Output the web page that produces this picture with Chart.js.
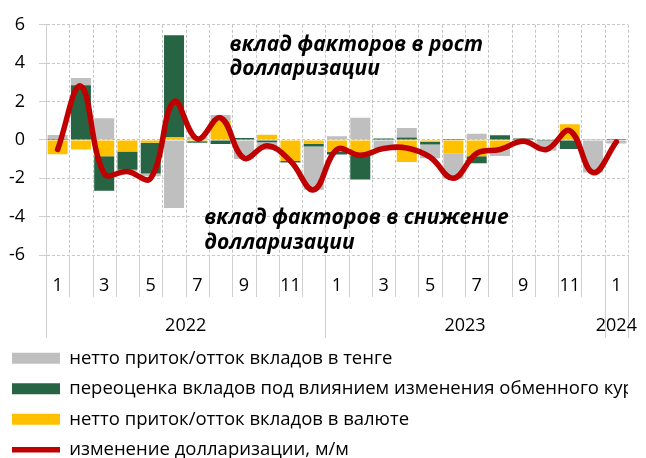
<!DOCTYPE html>
<html>
<head>
<meta charset="utf-8">
<script src="https://cdn.jsdelivr.net/npm/chart.js@4.4.1/dist/chart.umd.min.js"></script>
<style>
  html, body { margin: 0; padding: 0; background: #fff; overflow: hidden; }
  #wrap { position: relative; width: 646px; height: 469px; }
</style>
</head>
<body>
<div id="wrap"><canvas id="dollarChart"></canvas></div>
<script>
// месяцы янв.2022 - янв.2024
const months = ['1','2','3','4','5','6','7','8','9','10','11','12',
                '1','2','3','4','5','6','7','8','9','10','11','12','1'];
const years = ['2022', '2023', '2024'];
const yearSpans = [12, 12, 1];

// вклад факторов, п.п.
const kztFlow  = [0.21, 0.38, 1.13, -0.1, -0.15, -3.55, 0.17, 0.3, -1.0, -0.4, -0.05, -2.25,
                  0.19, 1.15, -0.53, 0.5, -0.72, -1.32, 0.32, -0.46, -0.05, -0.5, 0, -1.7, -0.19];
const fxReval  = [0.05, 2.85, -1.8, -0.95, -1.6, 5.3, -0.08, -0.22, 0.1, -0.12, -0.06, -0.15,
                  -0.14, -1.27, 0.07, 0.12, -0.14, 0.05, -0.37, 0.24, 0.07, -0.06, -0.48, 0, 0.05];
const fxFlow   = [-0.75, -0.5, -0.85, -0.6, -0.15, 0.15, -0.07, 1.0, 0, 0.27, -1.1, -0.2,
                  -0.62, -0.8, 0, -1.15, -0.1, -0.7, -0.85, -0.38, 0, 0.04, 0.82, 0.05, 0];
const dollarization = [-0.5, 2.8, -1.75, -1.65, -2.0, 2.0, 0.05, 1.15, -0.95, -0.3, -1.1, -2.6,
                       -0.5, -0.8, -0.45, -0.42, -0.9, -2.0, -0.7, -0.5, -0.07, -0.5, 0.48, -1.7, -0.1];
const yTicks = [-6, -4, -2, 0, 2, 4, 6];

const FONT = '"Open Sans", "Noto Sans", sans-serif';
const gridCol = '#D0D0D0';

// вертикальная сетка, разделители под осью, подписи годов и надписи на поле
const axisDecor = {
  id: 'axisDecor',
  afterDraw(chart) {
    const { ctx, chartArea: a, scales: { x, y } } = chart;
    const step = (a.right - a.left) / months.length;
    ctx.save();
    // сетка позади уже нарисованных столбцов и линии
    ctx.globalCompositeOperation = 'destination-over';
    ctx.strokeStyle = '#C4C4C4';
    ctx.lineWidth = 1;
    ctx.setLineDash([3, 2]);
    for (let i = 1; i <= months.length; i++) {
      const px = Math.round(a.left + i * step) + 0.5;
      ctx.beginPath();
      ctx.moveTo(px, a.top);
      ctx.lineTo(px, a.bottom);
      ctx.stroke();
    }
    ctx.setLineDash([]);
    ctx.globalCompositeOperation = 'source-over';

    ctx.strokeStyle = gridCol;
    const bounds = [0];
    let acc = 0;
    yearSpans.forEach(s => { acc += s; bounds.push(acc); });
    for (let i = 0; i <= months.length; i++) {
      const px = Math.round(a.left + i * step) + 0.5;
      const len = bounds.includes(i) ? 83 : 42;
      ctx.beginPath();
      ctx.moveTo(px, a.bottom);
      ctx.lineTo(px, a.bottom + len);
      ctx.stroke();
    }
    ctx.fillStyle = '#000';
    ctx.font = '18px ' + FONT;
    ctx.textAlign = 'center';
    ctx.textBaseline = 'middle';
    years.forEach((yr, i) => {
      const mid = (x.getPixelForValue(bounds[i]) + x.getPixelForValue(bounds[i + 1] - 1)) / 2;
      ctx.fillText(yr, mid, a.bottom + 71);
    });

    ctx.font = 'italic bold 21px ' + FONT;
    ctx.textAlign = 'left';
    ctx.textBaseline = 'alphabetic';
    const up = x.getPixelForValue(7) + 9;
    ctx.fillText('вклад факторов в рост', up, y.getPixelForValue(4.61));
    ctx.fillText('долларизации', up, y.getPixelForValue(3.36));
    const dn = x.getPixelForValue(6) + 7;
    ctx.fillText('вклад факторов в снижение', dn, y.getPixelForValue(-4.39));
    ctx.fillText('долларизации', dn, y.getPixelForValue(-5.67));
    ctx.restore();
  }
};

const legendRank = [2, 1, 0, 3];

const ctx = document.getElementById('dollarChart').getContext('2d');
const chart = new Chart(ctx, {
  type: 'bar',
  data: {
    labels: months,
    datasets: [
      { label: 'нетто приток/отток вкладов в валюте', data: fxFlow,
        backgroundColor: '#FFC000', pointStyle: 'rect', order: 1 },
      { label: 'переоценка вкладов под влиянием изменения обменного курса', data: fxReval,
        backgroundColor: '#266443', pointStyle: 'rect', order: 1 },
      { label: 'нетто приток/отток вкладов в тенге', data: kztFlow,
        backgroundColor: '#BFBFBF', pointStyle: 'rect', order: 1 },
      { type: 'line', label: 'изменение долларизации, м/м', data: dollarization,
        borderColor: '#C00000', backgroundColor: '#C00000', borderWidth: 5.5,
        borderCapStyle: 'round', borderJoinStyle: 'round',
        pointRadius: 0, pointStyle: 'line', tension: 0.4, stack: 'line', order: 0 }
    ]
  },
  options: {
    responsive: true,
    maintainAspectRatio: false,
    animation: false,
    datasets: { bar: { categoryPercentage: 1, barPercentage: 0.86 } },
    layout: { padding: { top: 6, left: 0, right: 18, bottom: 0 } },
    scales: {
      x: {
        stacked: true,
        grid: { display: false },
        border: { display: false },
        ticks: {
          autoSkip: false, maxRotation: 0, padding: 12, color: '#000',
          font: { family: FONT, size: 18 },
          callback: function (v, i) { return i % 2 === 0 ? this.getLabelForValue(v) : ''; }
        },
        afterFit: (s) => { s.height = 82; }
      },
      y: {
        stacked: true,
        min: -6, max: 6,
        afterBuildTicks: (s) => { s.ticks = yTicks.map(v => ({ value: v })); },
        grid: { color: '#C8C8C8', tickColor: gridCol, tickLength: 7 },
        border: { display: true, color: gridCol, dash: [3, 2] },
        ticks: { padding: 14, color: '#000', font: { family: FONT, size: 18 } },
        afterFit: (s) => { s.width = 46; }
      }
    },
    plugins: {
      tooltip: { enabled: false },
      legend: {
        position: 'bottom',
        align: 'start',
        labels: {
          usePointStyle: true,
          pointStyleWidth: 48,
          boxHeight: 11,
          padding: 12,
          color: '#000',
          font: { family: FONT, size: 18.5 },
          sort: (a, b) => legendRank[a.datasetIndex] - legendRank[b.datasetIndex]
        }
      }
    }
  },
  plugins: [axisDecor]
});
</script>
</body>
</html>
